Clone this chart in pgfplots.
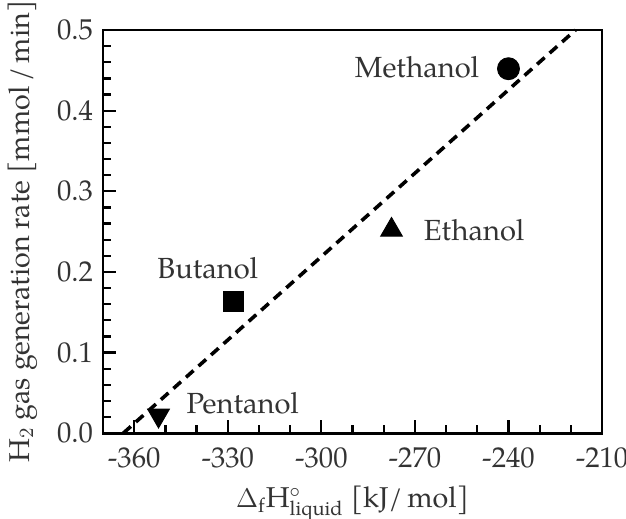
\documentclass[border=0pt]{standalone}
\usepackage{fontspec}
\setmainfont{TeX Gyre Pagella}
\usepackage{pgfplots}
\pgfplotsset{compat=1.18}
\usetikzlibrary{calc}

\begin{document}
\begin{tikzpicture}
\begin{axis}[
  scale only axis,
  width=222.8pt, height=180pt,
  xmin=-370, xmax=-210,
  ymin=0, ymax=0.5,
  xtick={-360,-330,-300,-270,-240,-210},
  ytick={0,0.1,0.2,0.3,0.4,0.5},
  minor x tick num=2,
  minor y tick num=4,
  xtick align=inside, ytick align=inside,
  xtick pos=lower, ytick pos=left,
  tickwidth=6pt,
  subtickwidth=3.6pt,
  xtick style={line width=1pt, draw=black},
  ytick style={line width=1pt, draw=black},
  axis line style={line width=1.2pt},
  yticklabel style={/pgf/number format/fixed, /pgf/number format/fixed zerofill, /pgf/number format/precision=1, /pgf/number format/assume math mode=true, xshift=-1pt},
  xticklabel style={/pgf/number format/int detect, /pgf/number format/assume math mode=true, yshift=-3pt},
  tick label style={font=\fontsize{12.8}{15}\selectfont, text=black!80},
  label style={font=\fontsize{12.8}{15}\selectfont, text=black!80},
  xlabel={$\Delta_{\mathrm{f}}\mathrm{H}^{\circ}_{\mathrm{liquid}}$ [kJ/\,mol]},
  ylabel={H$_2$ gas generation rate [mmol\,/\,min]},
  xlabel style={yshift=-1pt},
  ylabel style={yshift=2pt},
  clip=false,
]
% linear trend of rate against enthalpy of formation
\addplot[black, line width=1.6pt, dash pattern=on 4.5pt off 3pt] coordinates {
  (-363.5,0.0) (-218.5,0.5)
};
% methanol
\addplot[only marks, mark=*, mark size=4.9pt, black] coordinates {(-240,0.452)};
% ethanol
\addplot[only marks, mark=triangle*, mark size=5.6pt, black] coordinates {(-277.5,0.252)};
% butanol
\addplot[only marks, mark=square*, mark size=4.5pt, black] coordinates {(-328.3,0.163)};
% pentanol
\addplot[only marks, mark=triangle*, mark size=5.6pt, black,
  every mark/.append style={rotate=180}] coordinates {(-352.2,0.022)};

\node[font=\fontsize{13}{15}\selectfont, text=black!80] at (axis cs:-269.3,0.454) {Methanol};
\node[font=\fontsize{13}{15}\selectfont, text=black!80] at (axis cs:-251,0.252) {Ethanol};
\node[font=\fontsize{13}{15}\selectfont, text=black!80] at (axis cs:-336.4,0.205) {Butanol};
\node[font=\fontsize{13}{15}\selectfont, text=black!80] at (axis cs:-325.2,0.037) {Pentanol};
\end{axis}
% page margins around the plot frame
\pgfresetboundingbox
\path ($(current axis.south west)+(-46pt,-38pt)$) rectangle ($(current axis.north east)+(10.7pt,13.4pt)$);
\end{tikzpicture}
\end{document}
